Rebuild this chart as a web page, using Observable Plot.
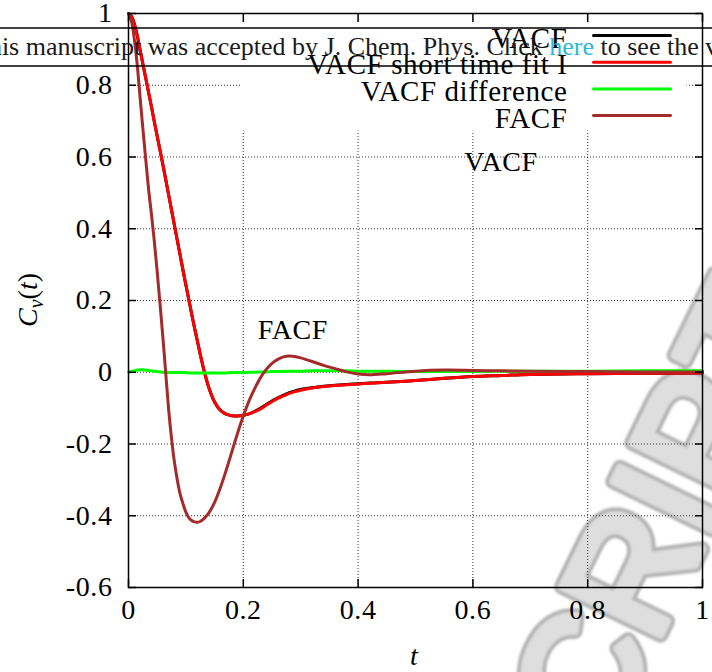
<!DOCTYPE html>
<html>
<head>
<meta charset="utf-8">
<script src="https://cdn.jsdelivr.net/npm/d3@7"></script>
<script src="https://cdn.jsdelivr.net/npm/@observablehq/plot@0.6"></script>
<style>
  html, body { margin: 0; padding: 0; background: #fff; }
  #wrap { position: relative; width: 712px; height: 672px; overflow: hidden; background: #fff; }
  #wrap > svg { position: absolute; left: 0; top: 0; }
  #stamp { z-index: 0; }
  #chart { position: absolute; left: 0; top: 0; z-index: 1; }
  #notes { z-index: 2; pointer-events: none; }
</style>
</head>
<body>
<div id="wrap">
  <svg id="stamp" width="712" height="672"></svg>
  <div id="chart"></div>
  <svg id="notes" width="712" height="672"></svg>
</div>
<script>
// Time grid (reduced units) shared by all correlation functions
const time = [
  0, 0.005, 0.01, 0.015, 0.02, 0.025, 0.03, 0.035, 0.04, 0.045,
  0.05, 0.055, 0.06, 0.065, 0.07, 0.075, 0.08, 0.085, 0.09, 0.095,
  0.10, 0.105, 0.11, 0.115, 0.12, 0.125, 0.13, 0.135, 0.14, 0.15,
  0.16, 0.17, 0.18, 0.19, 0.20, 0.21, 0.22, 0.23, 0.24, 0.25,
  0.26, 0.27, 0.28, 0.29, 0.30, 0.32, 0.34, 0.36, 0.38, 0.40,
  0.42, 0.45, 0.50, 0.55, 0.60, 0.65, 0.70, 0.80, 0.90, 1.00
];

// Velocity autocorrelation function
const vacf = [
  1, 0.993, 0.972, 0.94, 0.90, 0.86, 0.82, 0.78, 0.74, 0.698,
  0.658, 0.618, 0.578, 0.536, 0.494, 0.452, 0.41, 0.368, 0.326, 0.284,
  0.243, 0.203, 0.163, 0.124, 0.087, 0.05, 0.015, -0.016, -0.043, -0.083,
  -0.106, -0.117, -0.121, -0.122, -0.12, -0.116, -0.109, -0.100, -0.090, -0.080,
  -0.071, -0.064, -0.057, -0.052, -0.048, -0.043, -0.039, -0.036, -0.034, -0.032,
  -0.030, -0.028, -0.023, -0.017, -0.012, -0.009, -0.006, -0.004, -0.003, -0.002
];

// Short time fit I of the VACF
const vacfFit = [
  1, 0.993, 0.972, 0.94, 0.90, 0.86, 0.82, 0.78, 0.74, 0.698,
  0.658, 0.618, 0.578, 0.536, 0.494, 0.452, 0.41, 0.368, 0.326, 0.284,
  0.243, 0.203, 0.163, 0.124, 0.087, 0.05, 0.015, -0.016, -0.043, -0.083,
  -0.106, -0.117, -0.121, -0.122, -0.12, -0.116, -0.11, -0.102, -0.092, -0.082,
  -0.073, -0.066, -0.059, -0.054, -0.05, -0.044, -0.04, -0.037, -0.035, -0.033,
  -0.031, -0.028, -0.023, -0.017, -0.012, -0.009, -0.006, -0.004, -0.003, -0.002
];

// Difference between VACF and its fit
const vacfDiff = [
  0, 0.002, 0.004, 0.006, 0.007, 0.007, 0.006, 0.005, 0.004, 0.003,
  0.002, 0.001, 0, 0, -0.001, -0.001, -0.001, -0.001, -0.001, -0.001,
  -0.001, -0.002, -0.002, -0.002, -0.002, -0.002, -0.002, -0.002, -0.002, -0.002,
  -0.002, -0.002, -0.001, -0.001, -0.001, 0, 0, 0.001, 0.001, 0.002,
  0.002, 0.002, 0.003, 0.003, 0.003, 0.004, 0.004, 0.004, 0.004, 0.003,
  0.003, 0.003, 0.002, 0.002, 0.002, 0.003, 0.003, 0.003, 0.004, 0.004
];

// Force autocorrelation function
const facf = [
  1, 0.98, 0.93, 0.86, 0.77, 0.68, 0.594, 0.51, 0.44, 0.365,
  0.28, 0.19, 0.095, -0.005, -0.105, -0.185, -0.25, -0.30, -0.34, -0.367,
  -0.39, -0.405, -0.413, -0.417, -0.418, -0.416, -0.41, -0.402, -0.392, -0.363,
  -0.322, -0.274, -0.222, -0.17, -0.122, -0.08, -0.045, -0.015, 0.008, 0.025,
  0.036, 0.043, 0.0455, 0.044, 0.04, 0.03, 0.019, 0.01, 0.001, -0.005,
  -0.007, -0.004, 0.003, 0.006, 0.005, 0.004, 0.003, 0.002, 0.001, 0.001
];

const seriesNames = ["VACF", "VACF short time fit I", "VACF difference", "FACF"];
const seriesValues = [vacf, vacfFit, vacfDiff, facf];
const seriesColors = ["#000000", "#ff0000", "#00ff00", "#a52a2a"];

const xTicks = [0, 0.2, 0.4, 0.6, 0.8, 1];
const yTicks = [-0.6, -0.4, -0.2, 0, 0.2, 0.4, 0.6, 0.8, 1];

// Long table for the line mark
const rows = seriesNames.flatMap((name, k) =>
  time.map((t, i) => ({t, v: seriesValues[k][i], series: name}))
);

const fmt = d => String(Math.round(d * 10) / 10);
const serif = "'Liberation Serif', 'Times New Roman', serif";

// Plain stroke used for legend samples
const segment = {draw(context, l) { context.moveTo(0, 0); context.lineTo(0, -l); }};

const legendMarks = seriesNames.flatMap((name, i) => [
  Plot.text([name], {
    text: d => d, frameAnchor: "top-right", textAnchor: "end", lineAnchor: "middle",
    dx: -135, dy: 25 + i * 26.7, fill: "black", fontSize: 29
  }),
  Plot.vector([name], {
    frameAnchor: "top-right", dx: -109, dy: 22 + i * 26.7,
    rotate: 90, length: 77, anchor: "start", shape: segment,
    stroke: seriesColors[i], strokeWidth: 3
  })
]);

const dotted = {stroke: "#333", strokeOpacity: 1, strokeWidth: 1, strokeDasharray: "1,2"};
const blank = () => "";

const chart = Plot.plot({
  width: 712,
  height: 672,
  marginLeft: 128,
  marginRight: 10,
  marginTop: 13,
  marginBottom: 85,
  style: "font-family: 'Liberation Serif', 'Times New Roman', serif; font-size: 28px; background: transparent; letter-spacing: 0.6px; overflow: visible;",
  x: {domain: [0, 1]},
  y: {domain: [-0.6, 1]},
  color: {domain: seriesNames, range: seriesColors},
  marks: [
    Plot.gridX(xTicks, dotted),
    Plot.gridY(yTicks, dotted),
    // opaque key background
    Plot.rect([0], {x1: 0.197, x2: 0.973, y1: 0.672, y2: 1, fill: "white"}),
    Plot.line(rows, {x: "t", y: "v", z: "series", stroke: "series", strokeWidth: 3, curve: "catmull-rom"}),
    Plot.text(["FACF"], {x: 0.225, y: 0.117, text: d => d, textAnchor: "start", fill: "black"}),
    Plot.text(["VACF"], {x: 0.585, y: 0.585, text: d => d, textAnchor: "start", fill: "black"}),
    ...legendMarks,
    Plot.frame({stroke: "black", strokeWidth: 1.5}),
    // inward ticks on all four sides
    Plot.axisX(xTicks, {anchor: "bottom", tickSize: -8, tickFormat: blank, strokeWidth: 1.5, label: null}),
    Plot.axisX(xTicks, {anchor: "top", tickSize: -8, tickFormat: blank, strokeWidth: 1.5, label: null}),
    Plot.axisY(yTicks, {anchor: "left", tickSize: -8, tickFormat: blank, strokeWidth: 1.5, label: null}),
    Plot.axisY(yTicks, {anchor: "right", tickSize: -8, tickFormat: blank, strokeWidth: 1.5, label: null}),
    // tick labels
    Plot.text(xTicks, {x: d => d, frameAnchor: "bottom", lineAnchor: "top", dy: 12, text: fmt, fill: "black"}),
    Plot.text(yTicks, {y: d => d, frameAnchor: "left", textAnchor: "end", lineAnchor: "middle", dx: -16, text: fmt, fill: "black"})
  ]
});
document.getElementById("chart").appendChild(chart);

// every label in the chart uses the serif face with plain (proportional) figures
d3.select(chart).selectAll("text, g")
  .attr("font-variant", null)
  .style("font-variant", "normal")
  .style("font-variant-numeric", "normal")
  .style("font-family", serif);

// Axis titles and the publisher banner
const notes = d3.select("#notes");

const yTitle = notes.append("text")
  .attr("transform", "translate(37,300) rotate(-90)")
  .attr("text-anchor", "middle")
  .attr("font-family", serif).attr("font-size", 28).attr("fill", "black");
yTitle.append("tspan").attr("font-style", "italic").text("C");
yTitle.append("tspan").attr("font-style", "italic").attr("font-size", 20).attr("dy", 6).text("v");
yTitle.append("tspan").attr("dy", -6).text("(");
yTitle.append("tspan").attr("font-style", "italic").text("t");
yTitle.append("tspan").text(")");

notes.append("text")
  .attr("x", 414).attr("y", 665)
  .attr("text-anchor", "middle")
  .attr("font-family", serif).attr("font-size", 28).attr("font-style", "italic")
  .text("t");

notes.append("line").attr("x1", 0).attr("x2", 712).attr("y1", 28).attr("y2", 28)
  .attr("stroke", "black").attr("stroke-width", 1.5);
notes.append("line").attr("x1", 0).attr("x2", 712).attr("y1", 66).attr("y2", 66)
  .attr("stroke", "black").attr("stroke-width", 1.5);
const banner = notes.append("text")
  .attr("x", -27).attr("y", 55)
  .attr("font-family", serif).attr("font-size", 26).attr("fill", "#1a1a1a");
banner.append("tspan").text("This manuscript was accepted by J. Chem. Phys. Click ");
banner.append("tspan").attr("fill", "#2bb8d6").text("here");
banner.append("tspan").text(" to see the version of record.");

// Diagonal "ACCEPTED MANUSCRIPT" stamp behind the chart
const stamp = d3.select("#stamp");
const defs = stamp.append("defs");
defs.append("filter").attr("id", "soft")
  .append("feGaussianBlur").attr("stdDeviation", 0.9);
const g = stamp.append("g")
  .attr("transform", "translate(815,319) rotate(-64)")
  .attr("filter", "url(#soft)")
  .attr("font-family", "'Liberation Sans', Arial, sans-serif")
  .attr("font-size", 160)
  .attr("text-anchor", "end");
g.append("text").text("ACCEPTED MANUSCRIPT")
  .attr("fill", "#a0a0a0").attr("stroke", "#a0a0a0").attr("stroke-width", 16)
  .attr("stroke-linejoin", "round").attr("opacity", 0.8);
g.append("text").text("ACCEPTED MANUSCRIPT")
  .attr("fill", "#e0e0e0").attr("stroke", "#e0e0e0").attr("stroke-width", 8)
  .attr("stroke-linejoin", "round").attr("opacity", 0.95);
</script>
</body>
</html>
